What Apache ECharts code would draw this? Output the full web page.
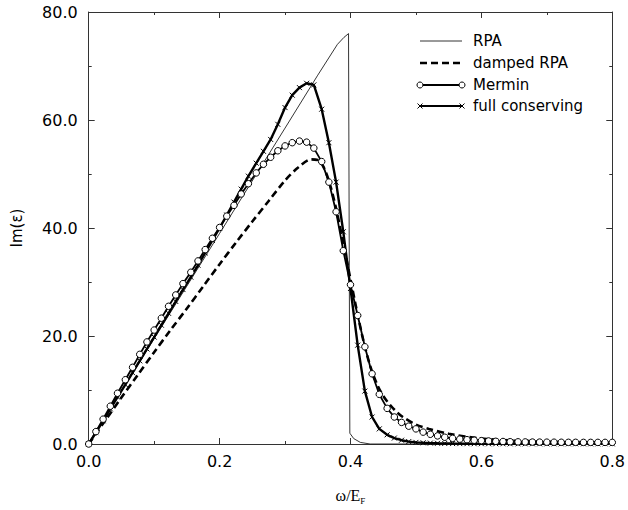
<!DOCTYPE html>
<html>
<head>
<meta charset="utf-8">
<script src="https://cdn.jsdelivr.net/npm/echarts@6/dist/echarts.min.js"></script>
<style>
html,body{margin:0;padding:0;background:#fff;}
#chart{width:628px;height:510px;}
</style>
</head>
<body>
<div id="chart"></div>
<script>
// ---- data ----
const xTicks = [0.0, 0.2, 0.4, 0.6, 0.8];
const yTicks = [0.0, 20.0, 40.0, 60.0, 80.0];

// RPA (thin line)
const rpaX = [0, 0.1, 0.2, 0.3, 0.35, 0.38, 0.39, 0.397, 0.399, 0.405, 0.415, 0.43, 0.8];
const rpaY = [0, 19.5, 39.0, 58.5, 68.3, 74.0, 75.3, 76.0, 2.0, 1.0, 0.3, 0, 0];

// damped RPA (dashed)
const dampX = [0, 0.025, 0.05, 0.075, 0.1, 0.125, 0.15, 0.175, 0.2, 0.225, 0.25, 0.275, 0.3, 0.32, 0.34, 0.35, 0.36, 0.37, 0.38, 0.39, 0.4, 0.41, 0.42, 0.43, 0.44, 0.45, 0.46, 0.47, 0.48, 0.5, 0.52, 0.55, 0.6, 0.65, 0.7, 0.75, 0.8];
const dampY = [0, 4.3, 8.6, 12.8, 17.0, 21.1, 25.1, 29.2, 33.3, 37.3, 41.2, 45.0, 48.8, 51.2, 52.7, 52.6, 51.0, 47.5, 42.5, 36.5, 30.5, 24.5, 19.0, 14.5, 11.2, 8.9, 7.3, 6.0, 5.0, 3.6, 2.8, 1.9, 1.0, 0.65, 0.45, 0.35, 0.3];

// sample positions of Mermin and full conserving markers
const markX = [0, 0.011, 0.022, 0.033, 0.044, 0.056, 0.067, 0.078, 0.089, 0.1,
  0.111, 0.122, 0.133, 0.144, 0.156, 0.167, 0.178, 0.189, 0.2, 0.211,
  0.222, 0.233, 0.244, 0.256, 0.267, 0.278, 0.289, 0.3, 0.311, 0.322,
  0.333, 0.344, 0.356, 0.367, 0.378, 0.389, 0.4, 0.411, 0.422, 0.433,
  0.444, 0.456, 0.467, 0.478, 0.489, 0.5, 0.511, 0.522, 0.533, 0.544,
  0.556, 0.567, 0.578, 0.589, 0.6, 0.611, 0.622, 0.633, 0.644, 0.656,
  0.667, 0.678, 0.689, 0.7, 0.711, 0.722, 0.733, 0.744, 0.756, 0.767,
  0.778, 0.789, 0.8];

// Mermin (line with open circles)
const merminY = [0, 2.3, 4.6, 7.0, 9.4, 11.9, 14.2, 16.6, 18.9, 21.1,
  23.3, 25.5, 27.6, 29.7, 31.8, 33.9, 36.0, 38.1, 40.1, 42.2,
  44.2, 46.3, 48.2, 50.2, 51.8, 53.1, 54.3, 55.2, 55.8, 56.1,
  55.9, 54.8, 52.3, 48.5, 43.0, 35.8, 29.5, 23.8, 18.0, 13.0,
  9.2, 6.6, 5.0, 4.0, 3.3, 2.8, 2.2, 1.8, 1.5, 1.25,
  1.05, 0.9, 0.8, 0.7, 0.62, 0.56, 0.5, 0.46, 0.42, 0.4,
  0.38, 0.36, 0.35, 0.34, 0.33, 0.32, 0.31, 0.31, 0.3, 0.3,
  0.3, 0.3, 0.3];

// full conserving (line with x marks)
const fullY = [0, 2.1, 4.3, 6.5, 8.7, 11.0, 13.2, 15.4, 17.6, 19.8,
  22.0, 24.2, 26.4, 28.6, 30.9, 33.1, 35.4, 37.7, 40.0, 42.4,
  44.8, 47.2, 49.6, 52.0, 54.2, 56.4, 59.2, 62.3, 64.6, 66.0,
  66.8, 66.5, 62.0, 55.8, 48.5, 39.3, 28.8, 18.3, 9.8, 5.0,
  2.8, 1.7, 1.1, 0.7, 0.45, 0.3, 0.22, 0.17, 0.13, 0.1,
  0.08, 0.07, 0.06, 0.05, 0.05, 0.04, 0.04, 0.04, 0.03, 0.03,
  0.03, 0.03, 0.03, 0.03, 0.03, 0.03, 0.03, 0.03, 0.03, 0.03,
  0.03, 0.03, 0.03];

const seriesNames = ['RPA', 'damped RPA', 'Mermin', 'full conserving'];

// ---- chart ----
const pair = (xs, ys) => xs.map((x, i) => [x, ys[i]]);
const FONT = 'DejaVu Sans';
const crossPath = 'path://M0,0L10,10M10,0L0,10';

const chart = echarts.init(document.getElementById('chart'), null, {renderer: 'svg'});

const axisCommon = {
  type: 'value',
  splitLine: {show: false},
  axisLine: {show: true, onZero: false, lineStyle: {color: '#333', width: 1}},
  axisTick: {show: true, inside: true, length: 6, lineStyle: {color: '#333'}},
  minorTick: {show: true, splitNumber: 2, length: 3, lineStyle: {color: '#333'}}
};

// legend built as graphic elements
const legendX1 = 420, legendX2 = 462, legendTextX = 473;
const legendY = [41, 63, 85, 106];
const graphics = [];
legendY.forEach((y, i) => {
  const line = {type: 'line', shape: {x1: legendX1, y1: y, x2: legendX2, y2: y}, style: {stroke: '#000', lineWidth: 2}};
  if (i === 0) line.style.lineWidth = 0.8;
  if (i === 1) { line.style.lineWidth = 2.6; line.style.lineDash = [7, 4]; }
  graphics.push(line);
  if (i === 2) {
    [legendX1, legendX2].forEach(cx => graphics.push({type: 'circle', shape: {cx: cx, cy: y, r: 3}, style: {fill: '#fff', stroke: '#000', lineWidth: 1}}));
  }
  if (i === 3) {
    [legendX1, legendX2].forEach(cx => {
      graphics.push({type: 'line', shape: {x1: cx - 2.5, y1: y - 2.5, x2: cx + 2.5, y2: y + 2.5}, style: {stroke: '#000', lineWidth: 1}});
      graphics.push({type: 'line', shape: {x1: cx - 2.5, y1: y + 2.5, x2: cx + 2.5, y2: y - 2.5}, style: {stroke: '#000', lineWidth: 1}});
    });
  }
  graphics.push({type: 'text', x: legendTextX, y: y, style: {text: seriesNames[i], fontFamily: FONT, fontSize: 15, fill: '#000', verticalAlign: 'middle', align: 'left'}});
});

const option = {
  backgroundColor: '#fff',
  animation: false,
  grid: {left: 88.7, right: 12, top: 12, bottom: 58, containLabel: false},
  xAxis: [
    Object.assign({}, axisCommon, {
      min: xTicks[0], max: xTicks[xTicks.length - 1], interval: 0.2, position: 'bottom',
      axisLabel: {show: true, margin: 9, color: '#000', fontFamily: FONT, fontSize: 16, formatter: v => v.toFixed(1)},
      name: '{a|ω/E}{s|F}', nameLocation: 'middle', nameGap: 42,
      nameTextStyle: {rich: {
        a: {fontFamily: 'Liberation Serif', fontSize: 16, color: '#000'},
        s: {fontFamily: 'Liberation Serif', fontSize: 9, color: '#000', padding: [10, 0, 0, 0]}
      }}
    }),
    Object.assign({}, axisCommon, {
      min: xTicks[0], max: xTicks[xTicks.length - 1], interval: 0.2, position: 'top',
      axisLabel: {show: false}
    })
  ],
  yAxis: [
    Object.assign({}, axisCommon, {
      min: yTicks[0], max: yTicks[yTicks.length - 1], interval: 20, position: 'left',
      axisLabel: {show: true, margin: 11, color: '#000', fontFamily: FONT, fontSize: 16, formatter: v => v.toFixed(1)},
      name: 'Im(ε)', nameLocation: 'middle', nameGap: 64, nameRotate: 90,
      nameTextStyle: {fontFamily: FONT, fontSize: 15, color: '#000'}
    }),
    Object.assign({}, axisCommon, {
      min: yTicks[0], max: yTicks[yTicks.length - 1], interval: 20, position: 'right',
      axisLabel: {show: false}
    })
  ],
  graphic: graphics,
  series: [
    {
      name: seriesNames[0], type: 'line', xAxisIndex: 0, yAxisIndex: 0,
      data: pair(rpaX, rpaY), showSymbol: false, symbol: 'none',
      lineStyle: {color: '#000', width: 0.8}, z: 2
    },
    {
      name: seriesNames[1], type: 'line', xAxisIndex: 0, yAxisIndex: 0,
      data: pair(dampX, dampY), showSymbol: false, symbol: 'none', smooth: 0.3,
      lineStyle: {color: '#000', width: 2.6, type: [7, 4]}, z: 3
    },
    {
      name: seriesNames[3], type: 'line', xAxisIndex: 0, yAxisIndex: 0,
      data: pair(markX, fullY), symbol: crossPath, symbolSize: 5, showSymbol: true,
      itemStyle: {color: 'rgba(0,0,0,0)', borderColor: '#000', borderWidth: 1},
      lineStyle: {color: '#000', width: 2.4}, z: 4
    },
    {
      name: seriesNames[2], type: 'line', xAxisIndex: 0, yAxisIndex: 0,
      data: pair(markX, merminY), symbol: 'circle', symbolSize: 6.5, showSymbol: true,
      itemStyle: {color: '#fff', borderColor: '#000', borderWidth: 1},
      lineStyle: {color: '#000', width: 1.8}, z: 5
    }
  ]
};
chart.setOption(option);
</script>
</body>
</html>
